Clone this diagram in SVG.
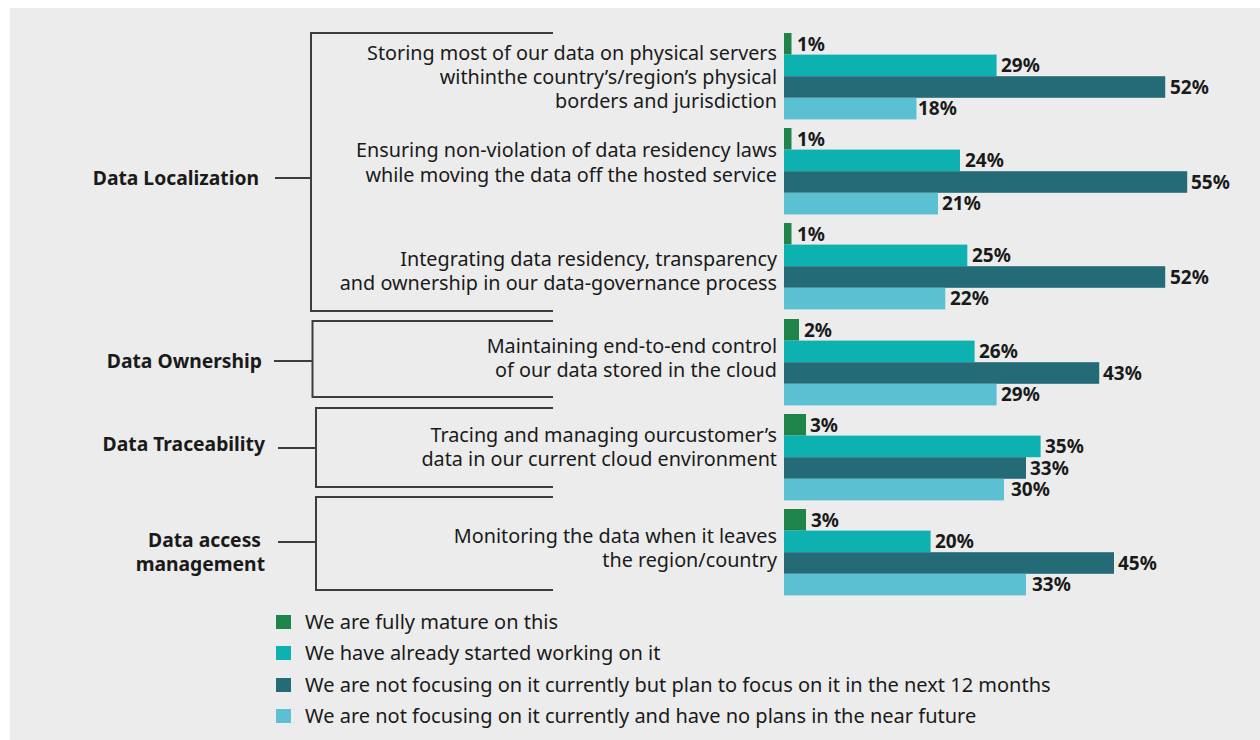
<svg xmlns="http://www.w3.org/2000/svg" width="1260" height="740" viewBox="0 0 1260 740">
<style>
.q{font-family:"Noto Sans","Liberation Sans",sans-serif;font-size:19.8px;fill:#1a1a1a;text-anchor:end}
.cat{font-family:"Noto Sans","Liberation Sans",sans-serif;font-size:19.3px;font-weight:bold;fill:#1a1a1a;text-anchor:end}
.pct{font-family:"Noto Sans","Liberation Sans",sans-serif;font-size:19px;font-weight:bold;fill:#1a1a1a}
.leg{font-family:"Noto Sans","Liberation Sans",sans-serif;font-size:20px;fill:#1a1a1a}
.br{fill:none;stroke:#3c3c42;stroke-width:2}
.c1{fill:#1f844a}.c2{fill:#0db1b0}.c3{fill:#246b77}.c4{fill:#5bc0d2}
</style>
<rect x="10" y="8" width="1250" height="732" fill="#ececec"/>
<g id="connectors">
<path class="br" d="M553,33 H311 V311 H553 M275,178 H311"/>
<path class="br" d="M553,321 H312.5 V397 H553 M274,361 H312.5"/>
<path class="br" d="M553,408 H316 V487 H553 M278,448 H316"/>
<path class="br" d="M553,497 H316 V590 H553 M278,542 H316"/>
</g>
<g id="cat-localization"><text class="cat" x="259" y="185">Data Localization</text></g>
<g id="cat-ownership"><text class="cat" x="262" y="368">Data Ownership</text></g>
<g id="cat-traceability"><text class="cat" x="265" y="451">Data Traceability</text></g>
<g id="cat-access"><text class="cat" x="261" y="547">Data access</text><text class="cat" x="265" y="571">management</text></g>
<g id="q1">
<text class="q" x="777" y="60">Storing most of our data on physical servers</text>
<text class="q" x="777" y="84">withinthe country’s/region’s physical</text>
<text class="q" x="777" y="108">borders and jurisdiction</text>
<rect class="c1" x="784" y="33" width="7.5" height="21.6"/>
<rect class="c2" x="784" y="54.6" width="212.6" height="21.6"/>
<rect class="c3" x="784" y="76.2" width="381.2" height="21.6"/>
<rect class="c4" x="784" y="97.8" width="132.5" height="21.6"/>
<text class="pct" x="797" y="50.5">1%</text>
<text class="pct" x="1001" y="72">29%</text>
<text class="pct" x="1170" y="93.5">52%</text>
<text class="pct" x="918" y="115">18%</text>
</g>
<g id="q2">
<text class="q" x="777" y="157">Ensuring non-violation of data residency laws</text>
<text class="q" x="777" y="182">while moving the data off the hosted service</text>
<rect class="c1" x="784" y="128" width="7.5" height="21.6"/>
<rect class="c2" x="784" y="149.6" width="176" height="21.6"/>
<rect class="c3" x="784" y="171.2" width="403.2" height="21.6"/>
<rect class="c4" x="784" y="192.8" width="154" height="21.6"/>
<text class="pct" x="797" y="145.5">1%</text>
<text class="pct" x="965" y="167">24%</text>
<text class="pct" x="1191" y="188.5">55%</text>
<text class="pct" x="942" y="210">21%</text>
</g>
<g id="q3">
<text class="q" x="777" y="266">Integrating data residency, transparency</text>
<text class="q" x="777" y="290">and ownership in our data-governance process</text>
<rect class="c1" x="784" y="223" width="7.5" height="21.6"/>
<rect class="c2" x="784" y="244.6" width="183.3" height="21.6"/>
<rect class="c3" x="784" y="266.2" width="381.2" height="21.6"/>
<rect class="c4" x="784" y="287.8" width="161.3" height="21.6"/>
<text class="pct" x="797" y="240.5">1%</text>
<text class="pct" x="972" y="262">25%</text>
<text class="pct" x="1170" y="283.5">52%</text>
<text class="pct" x="950" y="305">22%</text>
</g>
<g id="q4">
<text class="q" x="777" y="353">Maintaining end-to-end control</text>
<text class="q" x="777" y="377">of our data stored in the cloud</text>
<rect class="c1" x="784" y="319" width="15" height="21.6"/>
<rect class="c2" x="784" y="340.6" width="190.6" height="21.6"/>
<rect class="c3" x="784" y="362.2" width="315.2" height="21.6"/>
<rect class="c4" x="784" y="383.8" width="212.6" height="21.6"/>
<text class="pct" x="804" y="336.5">2%</text>
<text class="pct" x="979" y="358">26%</text>
<text class="pct" x="1103" y="379.5">43%</text>
<text class="pct" x="1001" y="401">29%</text>
</g>
<g id="q5">
<text class="q" x="777" y="442">Tracing and managing ourcustomer’s</text>
<text class="q" x="777" y="466">data in our current cloud environment</text>
<rect class="c1" x="784" y="414" width="22" height="21.6"/>
<rect class="c2" x="784" y="435.6" width="256.6" height="21.6"/>
<rect class="c3" x="784" y="457.2" width="242" height="21.6"/>
<rect class="c4" x="784" y="478.8" width="220" height="21.6"/>
<text class="pct" x="810" y="431.5">3%</text>
<text class="pct" x="1045" y="453">35%</text>
<text class="pct" x="1030" y="474.5">33%</text>
<text class="pct" x="1011" y="496">30%</text>
</g>
<g id="q6">
<text class="q" x="777" y="543">Monitoring the data when it leaves</text>
<text class="q" x="777" y="567">the region/country</text>
<rect class="c1" x="784" y="509" width="22" height="21.6"/>
<rect class="c2" x="784" y="530.6" width="146.6" height="21.6"/>
<rect class="c3" x="784" y="552.2" width="330" height="21.6"/>
<rect class="c4" x="784" y="573.8" width="242" height="21.6"/>
<text class="pct" x="811" y="526.5">3%</text>
<text class="pct" x="935" y="548">20%</text>
<text class="pct" x="1118" y="569.5">45%</text>
<text class="pct" x="1032" y="591">33%</text>
</g>
<g id="legend">
<rect class="c1" x="276" y="615" width="15" height="14"/>
<text class="leg" x="305" y="629">We are fully mature on this</text>
<rect class="c2" x="276" y="646" width="15" height="14"/>
<text class="leg" x="305" y="660">We have already started working on it</text>
<rect class="c3" x="276" y="678" width="15" height="14"/>
<text class="leg" x="305" y="692">We are not focusing on it currently but plan to focus on it in the next 12 months</text>
<rect class="c4" x="276" y="709" width="15" height="14"/>
<text class="leg" x="305" y="723">We are not focusing on it currently and have no plans in the near future</text>
</g>
</svg>
